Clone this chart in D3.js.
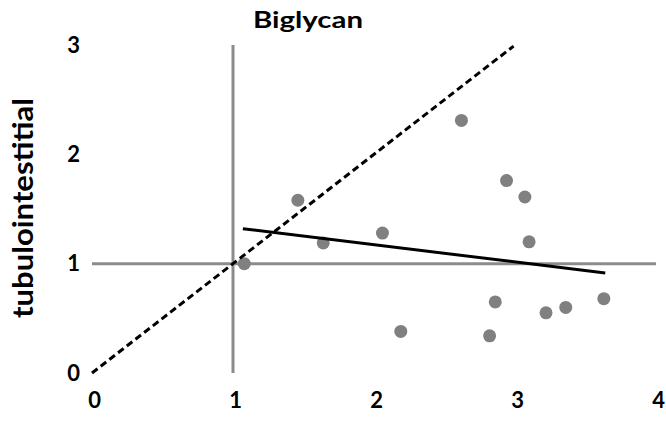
<!DOCTYPE html>
<html><head><meta charset="utf-8">
<script src="https://cdn.jsdelivr.net/npm/d3@7"></script>
<style>body{margin:0;background:#fff}svg{display:block}</style>
</head><body>
<svg id="c" width="666" height="421"></svg>
<script>
const title = "Biglycan";
const yLabel = "tubulointestitial";
const xTicks = [0, 1, 2, 3, 4];
const yTicks = [0, 1, 2, 3];
const xValues = [1.08, 1.46, 1.64, 2.06, 2.19, 2.62, 2.82, 2.86, 2.94, 3.07, 3.10, 3.22, 3.36, 3.63];
const yValues = [1.00, 1.58, 1.19, 1.28, 0.38, 2.31, 0.34, 0.65, 1.76, 1.61, 1.20, 0.55, 0.60, 0.68];
const identityLine = [[0, 0], [2.99, 2.99]];
const trendLine = [[1.07, 1.32], [3.64, 0.915]];
const refX = 1, refY = 1;

const svg = d3.select("#c");
const x = d3.scaleLinear().domain([0, 4]).range([92, 656]);
const y = d3.scaleLinear().domain([0, 3]).range([373, 45]);
const font = "Lato, 'Open Sans', sans-serif";

// reference lines
svg.append("line").attr("x1", x(refX)).attr("x2", x(refX)).attr("y1", y(3)).attr("y2", y(0))
  .attr("stroke", "#8c8c8c").attr("stroke-width", 3);
svg.append("line").attr("x1", x(0)).attr("x2", x(4)).attr("y1", y(refY)).attr("y2", y(refY))
  .attr("stroke", "#8c8c8c").attr("stroke-width", 3);

// points
svg.append("g").selectAll("circle").data(xValues.map((v, i) => [v, yValues[i]])).join("circle")
  .attr("cx", d => x(d[0])).attr("cy", d => y(d[1])).attr("r", 6.5).attr("fill", "#808080");

const line = d3.line().x(d => x(d[0])).y(d => y(d[1]));
svg.append("path").attr("d", line(identityLine)).attr("fill", "none")
  .attr("stroke", "#000").attr("stroke-width", 3).attr("stroke-dasharray", "7,4");
svg.append("path").attr("d", line(trendLine)).attr("fill", "none")
  .attr("stroke", "#000").attr("stroke-width", 3);

// x axis labels
const xa = svg.append("g").attr("transform", "translate(0,373)")
  .call(d3.axisBottom(x).tickValues(xTicks).tickFormat(d3.format("d")).tickSize(0).tickPadding(19));
xa.select(".domain").remove();
xa.selectAll("text").attr("font-family", font).attr("font-weight", "bold").attr("font-size", 22).attr("fill", "#000").attr("dx", 2);

const ya = svg.append("g").attr("transform", "translate(92,0)")
  .call(d3.axisLeft(y).tickValues(yTicks).tickFormat(d3.format("d")).tickSize(0).tickPadding(12));
ya.select(".domain").remove();
ya.selectAll("text").attr("font-family", font).attr("font-weight", "bold").attr("font-size", 22).attr("fill", "#000");

svg.append("text").attr("x", 253).attr("y", 28)
  .attr("font-family", font).attr("font-weight", "bold").attr("font-size", 23)
  .attr("textLength", 110).attr("lengthAdjust", "spacingAndGlyphs").text(title);

svg.append("text").attr("transform", "translate(33,318) rotate(-90)")
  .attr("font-family", font).attr("font-weight", "bold").attr("font-size", 28)
  .attr("textLength", 220).attr("lengthAdjust", "spacingAndGlyphs").text(yLabel);
</script>
</body></html>
